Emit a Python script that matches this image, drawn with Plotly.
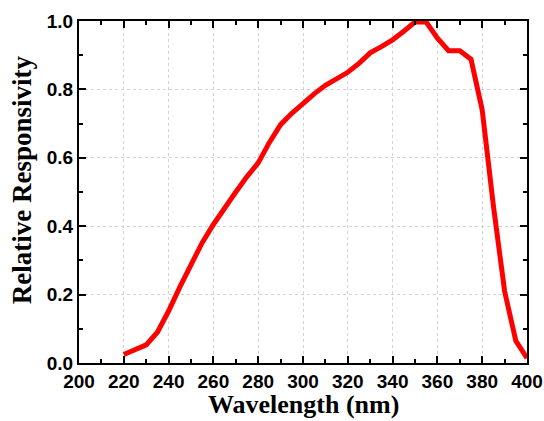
import plotly.graph_objects as go

wavelength = [220, 225, 230, 235, 240, 245, 250, 255, 260, 265, 270, 275, 280, 285, 290, 295,
              300, 305, 310, 315, 320, 325, 330, 335, 340, 345, 350, 355, 360, 365, 370, 375,
              380, 385, 390, 395, 400]
responsivity = [0.025, 0.039, 0.053, 0.09, 0.152, 0.222, 0.29, 0.352, 0.405, 0.455, 0.5, 0.545,
                0.585, 0.645, 0.697, 0.73, 0.76, 0.787, 0.812, 0.83, 0.85, 0.876, 0.907, 0.925,
                0.945, 0.97, 0.997, 0.997, 0.95, 0.913, 0.913, 0.888, 0.74, 0.46, 0.21, 0.065,
                0.014]

x_ticks = list(range(200, 401, 20))
y_ticks = [0.0, 0.2, 0.4, 0.6, 0.8, 1.0]

fig = go.Figure()
fig.add_trace(go.Scatter(
    x=wavelength, y=responsivity, mode="lines",
    line=dict(color="#ff0000", width=5), showlegend=False
))

axis_common = dict(
    showline=True, linecolor="black", linewidth=2, mirror="allticks",
    ticks="inside", ticklen=7, tickwidth=1.5, tickcolor="black",
    showgrid=True, gridcolor="#d2d2d2", griddash="dot", gridwidth=1,
    zeroline=False, automargin=False,
    tickfont=dict(family="Liberation Sans, Arial", size=19, color="black", weight="bold"),
    minor=dict(ticks="inside", ticklen=4, tickwidth=1.5, tickcolor="black", showgrid=False),
)

fig.update_xaxes(range=[200, 400], tickvals=x_ticks, minor_dtick=10, **axis_common)
fig.update_yaxes(range=[0, 1.0], tickvals=y_ticks, tickformat=".1f", minor_dtick=0.1, **axis_common)

title_font = dict(family="Liberation Serif, Times New Roman", color="black", weight="bold")
fig.add_annotation(text="Wavelength (nm)", xref="paper", yref="paper", x=0.5, y=0,
                   xanchor="center", yanchor="top", yshift=-25, showarrow=False,
                   font=dict(size=26, **title_font))
fig.add_annotation(text="Relative Responsivity", xref="paper", yref="paper", x=-0.127, y=0.535,
                   xanchor="center", yanchor="middle", textangle=-90, showarrow=False,
                   font=dict(size=27, **title_font))

fig.update_layout(
    width=544, height=421,
    margin=dict(l=79, r=17, t=21, b=58),
    plot_bgcolor="white", paper_bgcolor="white",
)

# the page body has a default 8px margin; drop it so the figure fills the window
fig.write_html("out.html", config={"displayModeBar": False},
               post_script="document.body.style.margin='0px';")
